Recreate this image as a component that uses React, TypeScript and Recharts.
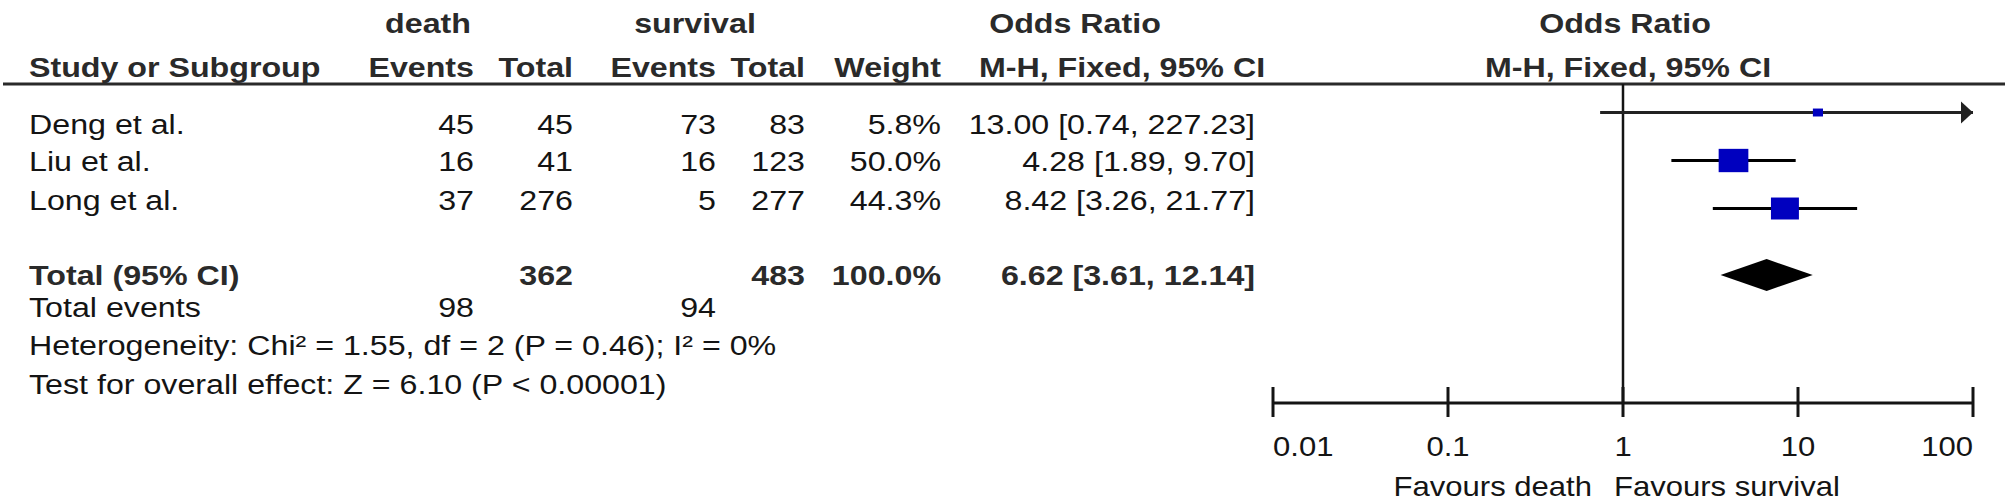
import {
  ScatterChart, Scatter, XAxis, YAxis, ReferenceLine, ReferenceArea, ReferenceDot, Customized,
} from "recharts";

// study rows
const studies = ["Deng et al.", "Liu et al.", "Long et al."];
const deathEvents = [45, 16, 37];
const deathTotal = [45, 41, 276];
const survivalEvents = [73, 16, 5];
const survivalTotal = [83, 123, 277];
const weights = [5.8, 50.0, 44.3];
const oddsRatios = [13.0, 4.28, 8.42];
const ciLower = [0.74, 1.89, 3.26];
const ciUpper = [227.23, 9.7, 21.77];

// pooled result
const totalDeath = 362;
const totalSurvival = 483;
const totalWeight = 100.0;
const pooledOR = 6.62;
const pooledLower = 3.61;
const pooledUpper = 12.14;
const totalEventsDeath = 98;
const totalEventsSurvival = 94;
const heterogeneityText = "Heterogeneity: Chi² = 1.55, df = 2 (P = 0.46); I² = 0%";
const overallEffectText = "Test for overall effect: Z = 6.10 (P < 0.00001)";

const axisTicks = [0.01, 0.1, 1, 10, 100];
const axisTickLabels = ["0.01", "0.1", "1", "10", "100"];
const favoursLeft = "Favours death";
const favoursRight = "Favours survival";

const FONT = "'Liberation Sans', Arial, sans-serif";
const INK = "#141414";
const HEAD = "#2a2a2a";
const BLUE = "#0000bf";
const FS = 28;   // font size
const SX = 1.15; // the figure is stretched sideways

// layout: marks sit on rows 1..3, text rows sit a little off them as in the figure
const W = 2005;
const H = 503;
const TOP = 84;
const TEXT_SLOTS = [1.239, 2.01, 2.812];
const SLOT_TOTAL = 4.385;
const SLOT_EVENTS = 5.052;
const SLOT_HET = 5.844;
const SLOT_TEST = 6.656;
const COL = { study: 29, dEv: 474, dTot: 573, sEv: 716, sTot: 805, weight: 941, or: 1255 };

const fmtCI = (or: number, lo: number, hi: number) =>
  `${or.toFixed(2)} [${lo.toFixed(2)}, ${hi.toFixed(2)}]`;

type Anchor = "start" | "end" | "middle";
type Cell = { text: string; x: number; anchor: Anchor; bold?: boolean };

const tableRows: { row: number; or: number; cells: Cell[] }[] = [
  ...studies.map((s, i) => ({
    row: TEXT_SLOTS[i],
    or: 1,
    cells: [
      { text: s, x: COL.study, anchor: "start" as const },
      { text: String(deathEvents[i]), x: COL.dEv, anchor: "end" as const },
      { text: String(deathTotal[i]), x: COL.dTot, anchor: "end" as const },
      { text: String(survivalEvents[i]), x: COL.sEv, anchor: "end" as const },
      { text: String(survivalTotal[i]), x: COL.sTot, anchor: "end" as const },
      { text: `${weights[i].toFixed(1)}%`, x: COL.weight, anchor: "end" as const },
      { text: fmtCI(oddsRatios[i], ciLower[i], ciUpper[i]), x: COL.or, anchor: "end" as const },
    ],
  })),
  {
    row: SLOT_TOTAL,
    or: 1,
    cells: [
      { text: "Total (95% CI)", x: COL.study, anchor: "start", bold: true },
      { text: String(totalDeath), x: COL.dTot, anchor: "end", bold: true },
      { text: String(totalSurvival), x: COL.sTot, anchor: "end", bold: true },
      { text: `${totalWeight.toFixed(1)}%`, x: COL.weight, anchor: "end", bold: true },
      { text: fmtCI(pooledOR, pooledLower, pooledUpper), x: COL.or, anchor: "end", bold: true },
    ],
  },
  {
    row: SLOT_EVENTS,
    or: 1,
    cells: [
      { text: "Total events", x: COL.study, anchor: "start" },
      { text: String(totalEventsDeath), x: COL.dEv, anchor: "end" },
      { text: String(totalEventsSurvival), x: COL.sEv, anchor: "end" },
    ],
  },
  { row: SLOT_HET, or: 1, cells: [{ text: heterogeneityText, x: COL.study, anchor: "start" }] },
  { row: SLOT_TEST, or: 1, cells: [{ text: overallEffectText, x: COL.study, anchor: "start" }] },
];

const studyPoints = studies.map((s, i) => ({
  name: s, row: i + 1, or: oddsRatios[i], weight: weights[i],
}));

function Label(p: { x: number; y: number; anchor: Anchor; bold?: boolean; size?: number; mid?: boolean; children: any }) {
  return (
    <text
      transform={`translate(${p.x} ${p.y}) scale(${SX} 1)`}
      dy={p.mid ? "0.36em" : undefined}
      textAnchor={p.anchor} fontFamily={FONT} fontSize={p.size ?? FS}
      fontWeight={p.bold ? 700 : 400} fill={p.bold ? HEAD : INK}
    >
      {p.children}
    </text>
  );
}

// table text drawn at each row's y from the chart's own y scale
const RowText = (props: any) => {
  const { cy, payload } = props;
  return (
    <g>
      {payload.cells.map((c: Cell, k: number) => (
        <Label key={k} x={c.x} y={cy} anchor={c.anchor} bold={c.bold} mid>
          {c.text}
        </Label>
      ))}
    </g>
  );
};

function OrTick(props: any) {
  const { x, y, payload, index } = props;
  const last = axisTicks.length - 1;
  const anchor: Anchor = index === 0 ? "start" : index === last ? "end" : "middle";
  return (
    <g>
      <line x1={x} x2={x} y1={y - 16} y2={y + 14} stroke={INK} strokeWidth={3} />
      <Label x={x} y={y + 53} anchor={anchor} size={27}>
        {axisTickLabels[axisTicks.indexOf(payload.value)]}
      </Label>
      {payload.value === 1 && (
        <>
          <Label x={x - 31} y={y + 93} anchor="end" size={27}>{favoursLeft}</Label>
          <Label x={x - 9} y={y + 93} anchor="start" size={27}>{favoursRight}</Label>
        </>
      )}
    </g>
  );
}

function Header() {
  const t = (text: string, x: number, y: number, anchor: Anchor) => (
    <Label x={x} y={y} anchor={anchor} bold>{text}</Label>
  );
  return (
    <g>
      {t("death", 428, 33, "middle")}
      {t("survival", 695, 33, "middle")}
      {t("Odds Ratio", 1075, 33, "middle")}
      {t("Odds Ratio", 1625, 33, "middle")}
      {t("Study or Subgroup", COL.study, 77, "start")}
      {t("Events", COL.dEv, 77, "end")}
      {t("Total", COL.dTot, 77, "end")}
      {t("Events", COL.sEv, 77, "end")}
      {t("Total", COL.sTot, 77, "end")}
      {t("Weight", COL.weight, 77, "end")}
      {t("M-H, Fixed, 95% CI", 1122, 77, "middle")}
      {t("M-H, Fixed, 95% CI", 1628, 77, "middle")}
      <line x1={3} x2={W} y1={TOP} y2={TOP} stroke={HEAD} strokeWidth={3} />
    </g>
  );
}

const Square = (props: any) => {
  const { cx, cy, payload } = props;
  const f = Math.sqrt(payload.weight / 100);
  const w = 42 * f;
  const h = 33 * f;
  return <rect x={cx - w / 2} y={cy - h / 2} width={w} height={h} fill={BLUE} />;
};

const Diamond = (props: any) => {
  const { x, y, width, height } = props;
  const span = Math.log10(pooledUpper) - Math.log10(pooledLower);
  const cx = x + (width * (Math.log10(pooledOR) - Math.log10(pooledLower))) / span;
  const cy = y + height / 2;
  return (
    <polygon points={`${x},${cy} ${cx},${y} ${x + width},${cy} ${cx},${y + height}`} fill="#000" />
  );
};

const ArrowHead = (props: any) => {
  const { cx, cy } = props;
  return <polygon points={`${cx},${cy} ${cx - 12},${cy - 11} ${cx - 12},${cy + 11}`} fill="#222" />;
};

export default function App() {
  const xMax = axisTicks[axisTicks.length - 1];
  return (
    <div style={{ position: "absolute", left: 0, top: 0, width: W, height: H, background: "#fff" }}>
      <ScatterChart width={W} height={H} margin={{ top: TOP, right: 32, bottom: 0, left: 1273 }}>
        <XAxis
          type="number" dataKey="or" scale="log" domain={[0.01, 100]} ticks={axisTicks}
          interval={0} height={100} tickSize={0} tickMargin={0}
          axisLine={{ stroke: INK, strokeWidth: 3 }} tickLine={false} tick={<OrTick />}
        />
        <YAxis type="number" dataKey="row" domain={[0.406, 7.052]} reversed hide />
        <Customized component={<Header />} />
        <ReferenceLine x={1} stroke={INK} strokeWidth={2.5} />
        {studies.map((s, i) => (
          <ReferenceLine
            key={s}
            segment={[{ x: ciLower[i], y: i + 1 }, { x: Math.min(ciUpper[i], xMax), y: i + 1 }]}
            stroke={ciUpper[i] > xMax ? "#222" : "#000"} strokeWidth={3}
          />
        ))}
        {studies.map((s, i) =>
          ciUpper[i] > xMax ? (
            <ReferenceDot key={`arrow-${s}`} x={xMax} y={i + 1} shape={ArrowHead} />
          ) : null
        )}
        <ReferenceArea
          x1={pooledLower} x2={pooledUpper} y1={SLOT_TOTAL - 0.333} y2={SLOT_TOTAL + 0.333}
          shape={Diamond}
        />
        <Scatter data={studyPoints} shape={Square} isAnimationActive={false} />
        <Scatter data={tableRows} shape={RowText} isAnimationActive={false} />
      </ScatterChart>
    </div>
  );
}
